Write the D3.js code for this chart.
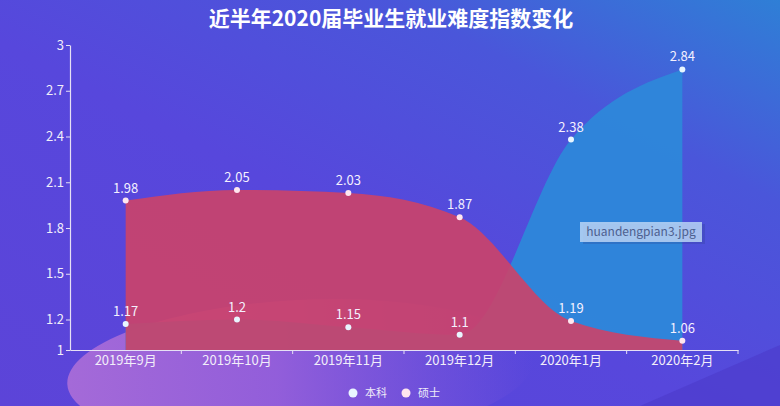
<!DOCTYPE html>
<html><head><meta charset="utf-8">
<script src="https://cdn.jsdelivr.net/npm/d3@7/dist/d3.min.js"></script>
<style>
html,body{margin:0;padding:0;background:#5548da;}
svg{display:block;font-family:"Noto Sans CJK SC","Noto Sans",sans-serif;}
</style></head>
<body><svg id="c" width="780" height="406"></svg>
<script>
const titleText = "近半年2020届毕业生就业难度指数变化";
const categories = ["2019年9月","2019年10月","2019年11月","2019年12月","2020年1月","2020年2月"];
const seriesNames = ["本科","硕士"];
const benke = [1.17, 1.2, 1.15, 1.1, 2.38, 2.84];
const shuoshi = [1.98, 2.05, 2.03, 1.87, 1.19, 1.06];
const yTicks = [1, 1.2, 1.5, 1.8, 2.1, 2.4, 2.7, 3];
const watermark = "huandengpian3.jpg";

const W = 780, H = 406;
const svg = d3.select("#c");
const defs = svg.append("defs");

// background
const bg = defs.append("linearGradient").attr("id","bg")
  .attr("x1","0").attr("y1","1").attr("x2","1").attr("y2","0");
bg.append("stop").attr("offset","0").attr("stop-color","#5c44d8");
bg.append("stop").attr("offset","0.45").attr("stop-color","#5747dc");
bg.append("stop").attr("offset","0.75").attr("stop-color","#4a56da");
bg.append("stop").attr("offset","1").attr("stop-color","#2f7fd6");
svg.append("rect").attr("width",W).attr("height",H).attr("fill","url(#bg)");

const blob = defs.append("linearGradient").attr("id","blob")
  .attr("x1","0").attr("y1","0").attr("x2","1").attr("y2","0");
blob.append("stop").attr("offset","0").attr("stop-color","#a86cd8").attr("stop-opacity",0.95);
blob.append("stop").attr("offset","0.45").attr("stop-color","#9c62da").attr("stop-opacity",0.85);
blob.append("stop").attr("offset","1").attr("stop-color","#9060da").attr("stop-opacity",0);
svg.append("ellipse").attr("cx",300).attr("cy",372).attr("rx",233).attr("ry",72)
  .attr("transform","rotate(-3,300,372)").attr("fill","url(#blob)");
svg.append("path").attr("d",`M640,406 L780,345 L780,406 Z`).attr("fill","#4a38c8").attr("opacity",0.55);

// scales
const x = d3.scaleBand().domain(categories).range([70,738]);
const cx = d => x(d) + x.bandwidth()/2;
const y = d3.scaleLinear().domain([1,3]).range([350,45]);

const area = d3.area()
  .x((d,i) => cx(categories[i]))
  .y0(y(1))
  .y1(d => y(d))
  .curve(d3.curveMonotoneX);

svg.append("path").datum(benke).attr("d",area).attr("fill","#2e86da").attr("opacity",0.97);
svg.append("path").datum(shuoshi).attr("d",area).attr("fill","#cc4268").attr("opacity",0.9);

// axes
const axisColor = "#e6e0f5";
const gy = svg.append("g").attr("transform","translate(70,0)")
  .call(d3.axisLeft(y).tickValues(yTicks).tickFormat(d3.format("~g")).tickSize(4).tickSizeOuter(0));
const gx = svg.append("g").attr("transform",`translate(0,${y(1)})`)
  .call(d3.axisBottom(x).tickSize(0).tickSizeOuter(0));
[gy,gx].forEach(g=>{
  g.select(".domain").attr("stroke",axisColor).attr("stroke-width",1.2);
  g.selectAll(".tick line").attr("stroke",axisColor);
  g.selectAll("text").attr("fill","#f2eefa").attr("font-size",13).attr("font-family",'"Noto Sans CJK SC",sans-serif');
});
gy.selectAll("text").attr("x",-6);
gx.selectAll("text").attr("dy","0.95em").attr("y",3);
// x boundary ticks
const bounds = categories.slice(1).map(c=>x(c)).concat([738]);
gx.selectAll(".btick").data(bounds).enter().append("line")
  .attr("x1",d=>d).attr("x2",d=>d).attr("y1",0).attr("y2",4).attr("stroke",axisColor);

// dots and labels
function drawPoints(vals, dotColor){
  const g = svg.append("g");
  g.selectAll("circle").data(vals).enter().append("circle")
    .attr("cx",(d,i)=>cx(categories[i])).attr("cy",d=>y(d)).attr("r",3)
    .attr("fill",dotColor);
  g.selectAll("text").data(vals).enter().append("text")
    .attr("x",(d,i)=>cx(categories[i])).attr("y",d=>y(d)-8)
    .attr("text-anchor","middle").attr("font-size",13)
    .attr("fill","#f4f0ff").text(d=>d3.format("~g")(d));
}
drawPoints(benke,"#e8f6ff");
drawPoints(shuoshi,"#ffe6ef");

// title
svg.append("text").attr("x",391).attr("y",26).attr("text-anchor","middle")
  .attr("font-size",21).attr("font-weight","bold").attr("fill","#ffffff").text(titleText);

// legend
const legendColors = ["#e8f6ff","#ffe6ef"];
const lx = [353, 406];
seriesNames.forEach((n,i)=>{
  svg.append("circle").attr("cx",lx[i]).attr("cy",393).attr("r",4.5).attr("fill",legendColors[i]);
  svg.append("text").attr("x",lx[i]+12).attr("y",397).attr("font-size",11).attr("fill","#eeeaf8").text(n);
});

// watermark label
const wm = svg.append("g");
wm.append("rect").attr("x",583).attr("y",224).attr("width",122).attr("height",20).attr("fill","#2a3a8a").attr("opacity",0.25);
wm.append("rect").attr("x",580).attr("y",222).attr("width",122).attr("height",20).attr("fill","#b8d4f4").attr("opacity",0.85);
wm.append("text").attr("x",641).attr("y",236).attr("text-anchor","middle").attr("font-size",12)
  .attr("fill","#4d5f8f").text(watermark);
</script></body></html>
